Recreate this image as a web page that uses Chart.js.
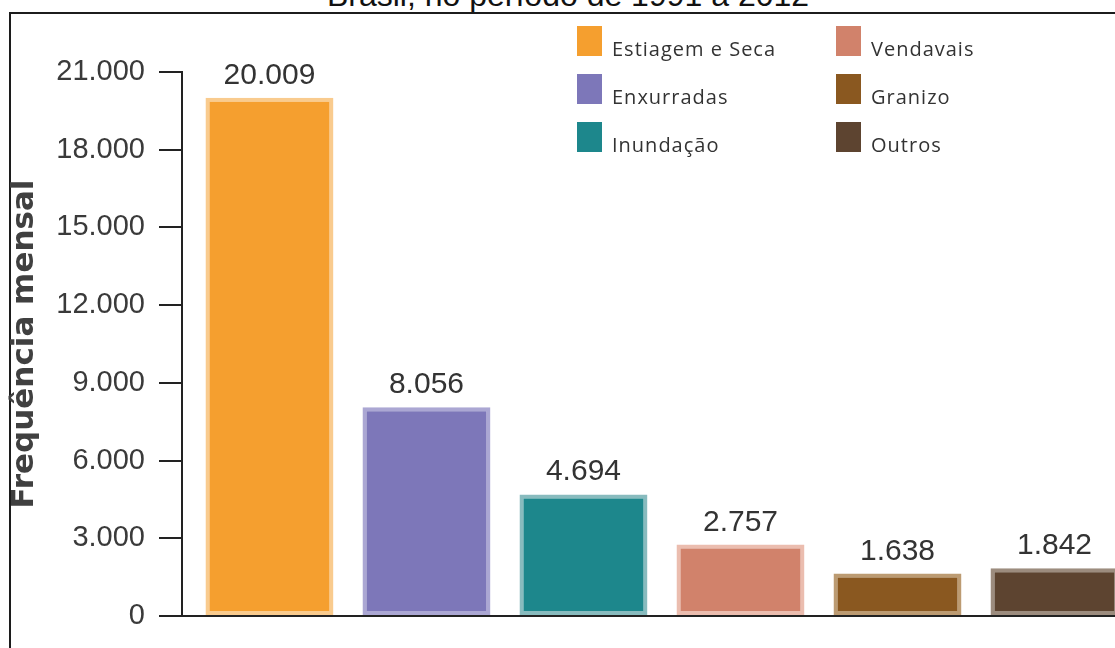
<!DOCTYPE html>
<html lang="pt-BR">
<head>
<meta charset="utf-8">
<title>Frequência mensal de desastres</title>
<script src="https://cdn.jsdelivr.net/npm/chart.js@4.4.1/dist/chart.umd.min.js"></script>
<style>
  html, body { margin: 0; padding: 0; background: #fff; overflow: hidden; width: 1115px; height: 648px; }
  .headline {
    position: absolute; left: 0; width: 1136px; top: -21px;
    text-align: center; font: 32px/32px "Liberation Sans", Arial, sans-serif; color: #111;
    white-space: nowrap;
  }
  .frame {
    position: absolute; left: 9px; top: 12px; width: 2000px; height: 2000px;
    border-left: 2px solid #1c1c1c; border-top: 2px solid #1c1c1c;
  }
  .plot { position: absolute; left: 0; top: 0; width: 1133px; height: 648px; }
  .legend {
    position: absolute; left: 577px; top: 26px;
    display: grid; grid-template-columns: 259px auto; grid-auto-flow: column;
    grid-template-rows: repeat(3, 48px);
    font-family: "Open Sans", Lato, sans-serif; font-size: 20px; color: #333;
  }
  .legend .item { display: flex; align-items: flex-end; height: 30px; }
  .legend .sw { width: 25px; height: 30px; margin-right: 10px; flex: none; }
  .legend .lab { line-height: 1; position: relative; top: 3px; letter-spacing: 1px; }
</style>
</head>
<body>
<div class="headline">Brasil, no período de 1991 a 2012</div>
<div class="frame"></div>
<div class="plot"><canvas id="chart"></canvas></div>
<div class="legend" id="legend"></div>
<script>
// Tipos de desastre e respectivas ocorrências
const categorias = ['Estiagem e Seca', 'Enxurradas', 'Inundação', 'Vendavais', 'Granizo', 'Outros'];
const ocorrencias = [20009, 8056, 4694, 2757, 1638, 1842];
const coresBarra = ['#F59F2F', '#7D77B9', '#1D878C', '#D1826B', '#8A5820', '#5D4430'];
const coresBorda = ['#F9CB8E', '#ABA7D3', '#88BBBE', '#EBBDAF', '#BC9B72', '#9C8C7E'];
const marcasEixoY = [0, 3000, 6000, 9000, 12000, 15000, 18000, 21000];

// Separador de milhar com ponto
function formatar(n) {
  return String(Math.round(n)).replace(/\B(?=(\d{3})+(?!\d))/g, '.');
}

// Legenda em duas colunas
const legenda = document.getElementById('legend');
categorias.forEach((nome, i) => {
  const item = document.createElement('div');
  item.className = 'item';
  const sw = document.createElement('span');
  sw.className = 'sw';
  sw.style.background = coresBarra[i];
  const lab = document.createElement('span');
  lab.className = 'lab';
  lab.textContent = nome;
  item.appendChild(sw);
  item.appendChild(lab);
  legenda.appendChild(item);
});

// Rótulos de valor acima de cada barra
const rotulosValor = {
  id: 'rotulosValor',
  afterDatasetsDraw(chart) {
    const ctx = chart.ctx;
    const meta = chart.getDatasetMeta(0);
    ctx.save();
    ctx.font = '30px "Liberation Sans", Arial, sans-serif';
    ctx.fillStyle = '#333333';
    ctx.textAlign = 'center';
    ctx.textBaseline = 'alphabetic';
    meta.data.forEach((bar, i) => {
      ctx.fillText(formatar(ocorrencias[i]), bar.x, bar.y - 14);
    });
    ctx.restore();
  }
};

new Chart(document.getElementById('chart'), {
  type: 'bar',
  data: {
    datasets: [{
      label: 'Frequência mensal',
      data: ocorrencias.map((v, i) => ({ x: i, y: v })),
      backgroundColor: coresBarra,
      borderColor: coresBorda,
      borderWidth: 4,
      borderSkipped: false,
      categoryPercentage: 1,
      barPercentage: 0.815
    }]
  },
  options: {
    responsive: true,
    maintainAspectRatio: false,
    animation: false,
    events: [],
    layout: { padding: { top: 72, bottom: 32, left: 0, right: 0 } },
    plugins: { legend: { display: false }, tooltip: { enabled: false } },
    scales: {
      x: {
        type: 'linear',
        offset: false,
        min: -0.557,
        max: 5.5,
        ticks: { display: false, stepSize: 1 },
        afterBuildTicks(scale) {
          scale.ticks = scale.ticks.filter(t => Number.isInteger(t.value));
        },
        grid: { display: false, drawTicks: false, offset: false },
        border: { display: true, color: '#222', width: 2 }
      },
      y: {
        min: 0,
        max: 21000,
        afterBuildTicks(scale) {
          scale.ticks = marcasEixoY.map(v => ({ value: v }));
        },
        afterFit(scale) { scale.width = 182; },
        ticks: {
          callback: v => formatar(v),
          font: { family: '"Liberation Sans", Arial, sans-serif', size: 29 },
          color: '#3a3a3a',
          padding: 14
        },
        grid: { drawOnChartArea: false, drawTicks: true, tickLength: 23, color: '#222', lineWidth: 2 },
        border: { display: true, color: '#222', width: 2 },
        title: {
          display: true,
          text: 'Frequência mensal',
          font: { family: '"DejaVu Sans", sans-serif', size: 31, weight: 'bold', lineHeight: 1.2 },
          color: '#404040',
          padding: { top: 6, bottom: 0 }
        }
      }
    }
  },
  plugins: [rotulosValor]
});
</script>
</body>
</html>
